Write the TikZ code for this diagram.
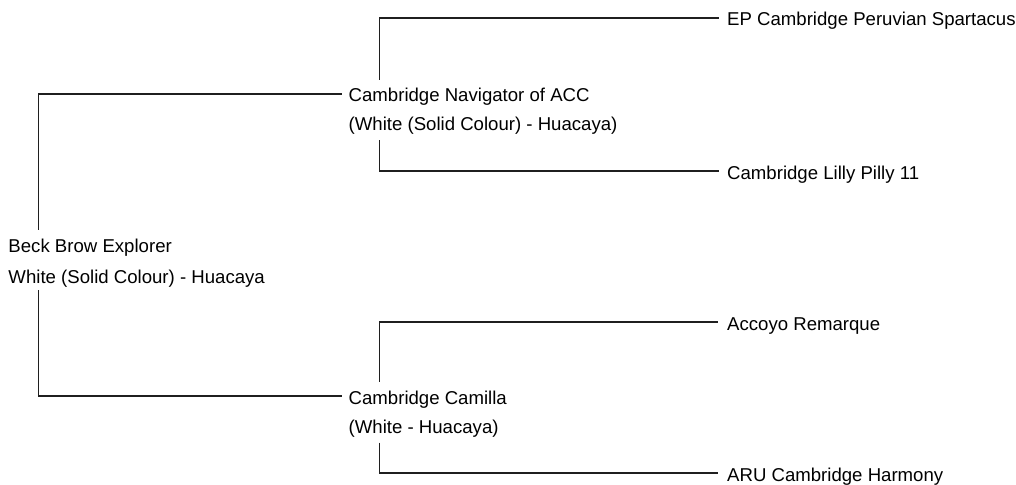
\documentclass[tikz,border=0pt]{standalone}
\usepackage{fontspec}
\setmainfont{Liberation Sans}
\begin{document}
\begin{tikzpicture}[x=1pt,y=1pt,
  lbl/.style={anchor=base west,inner sep=0pt,text height=16pt,text depth=0pt,
    font=\fontsize{18.6}{22}\selectfont,text=black},
  conn/.style={draw=black!88,line width=1.3pt}]
\useasboundingbox[fill=white] (0,0) rectangle (1016,-484);
% nodes
\node[lbl] (root)  at (8.3,-252) {Beck Brow Explorer};
\node[lbl] (root2) at (8.3,-283) {White (Solid Colour) - Huacaya};
\node[lbl] (nav)   at (348.5,-102) {Cambridge Navigator of ACC};
\node[lbl] (nav2)  at (348.5,-131) {(White (Solid Colour) - Huacaya)};
\node[lbl] (cam)   at (348.5,-404) {Cambridge Camilla};
\node[lbl] (cam2)  at (348.5,-433.5) {(White - Huacaya)};
\node[lbl] (ep)    at (727,-26) {EP Cambridge Peruvian Spartacus};
\node[lbl] (lilly) at (727,-179) {Cambridge Lilly Pilly 11};
\node[lbl] (acc)   at (727,-330) {Accoyo Remarque};
\node[lbl] (aru)   at (727,-481) {ARU Cambridge Harmony};
% connectors
\draw[conn] ([xshift=30.5pt,yshift=6pt]root.north west) |- ([xshift=-7pt]nav.west);
\draw[conn] ([xshift=30.5pt,yshift=-7pt]root2.south west) |- ([xshift=-7pt]cam.west);
\draw[conn] ([xshift=31pt,yshift=6pt]nav.north west) |- ([xshift=-8pt]ep.west);
\draw[conn] ([xshift=31pt,yshift=-9pt]nav2.south west) |- ([xshift=-8pt]lilly.west);
\draw[conn] ([xshift=31pt,yshift=6pt]cam.north west) |- ([xshift=-9pt]acc.west);
\draw[conn] ([xshift=31pt,yshift=-9pt]cam2.south west) |- ([xshift=-9pt]aru.west);
\end{tikzpicture}
\end{document}
